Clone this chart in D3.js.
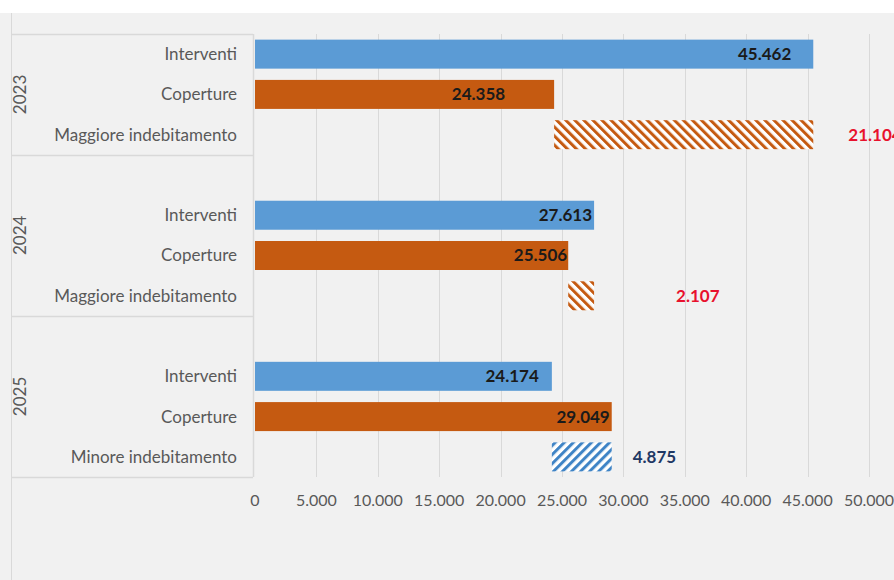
<!DOCTYPE html>
<html>
<head>
<meta charset="utf-8">
<script src="https://cdn.jsdelivr.net/npm/d3@7"></script>
<style>
  html, body { margin: 0; padding: 0; background: #ffffff; }
  svg { display: block; }
</style>
</head>
<body>
<div id="chart"></div>
<script>
// ---------- DATA ----------
const years = ["2023", "2024", "2025"];
const rowLabels = [
  ["Interventi", "Coperture", "Maggiore indebitamento"],
  ["Interventi", "Coperture", "Maggiore indebitamento"],
  ["Interventi", "Coperture", "Minore indebitamento"]
];
const interventi = [45462, 27613, 24174];
const coperture = [24358, 25506, 29049];
const differenza = [21104, 2107, 4875];
const tickValues = [0, 5000, 10000, 15000, 20000, 25000, 30000, 35000, 40000, 45000, 50000];

// ---------- LAYOUT / STYLE ----------
const W = 894, H = 580;
const plotLeft = 255, plotRight = 869, plotTop = 34, plotBottom = 477;
const catLeft = 11;
const blue = "#5b9bd5", orange = "#c55a11", grid = "#d9d9d9", textGray = "#595959";
const font = "Lato, 'Open Sans', sans-serif";
// label nudges (px) relative to bar ends, mimicking manually placed labels
const intLabelShift = [-22, -2, -13];
const copLabelShift = [-49, -1, -2];
const diffLabelShift = [35, 82, 21];
const diffLabelColor = ["#e8112d", "#e8112d", "#1f3864"];

const fmt = v => d3.format(",")(v).replace(/,/g, ".");

// build slots: each year group, blank slot between groups
const slots = [];
years.forEach((y, gi) => {
  if (gi > 0) slots.push({ id: y + "-blank", blank: true, gi });
  rowLabels[gi].forEach((lab, ri) => slots.push({ id: y + "-" + ri, label: lab, gi, ri }));
});

const svg = d3.select("#chart").append("svg").attr("width", W).attr("height", H);

svg.append("rect").attr("x", 0).attr("y", 13).attr("width", W).attr("height", H - 13).attr("fill", "#f1f1f1");
svg.append("line").attr("x1", catLeft + 0.5).attr("x2", catLeft + 0.5).attr("y1", 13).attr("y2", H).attr("stroke", grid);

const x = d3.scaleLinear().domain([0, 50000]).range([plotLeft, plotRight]);
const y = d3.scaleBand().domain(slots.map(s => s.id)).range([plotTop, plotBottom]).paddingInner(0.28).paddingOuter(0.14);

// patterns
const defs = svg.append("defs");
function hatch(id, color, angle) {
  const p = defs.append("pattern").attr("id", id).attr("patternUnits", "userSpaceOnUse")
    .attr("width", 6.4).attr("height", 6.4).attr("patternTransform", `rotate(${angle})`);
  p.append("rect").attr("width", 6.4).attr("height", 6.4).attr("fill", "#ffffff");
  p.append("rect").attr("width", 3).attr("height", 6.4).attr("fill", color);
}
hatch("hOrange", orange, -45);
hatch("hBlue", "#3f84c6", 45);

// gridlines
svg.append("g").selectAll("line").data(tickValues.slice(1)).join("line")
  .attr("x1", d => Math.round(x(d)) + 0.5).attr("x2", d => Math.round(x(d)) + 0.5)
  .attr("y1", plotTop).attr("y2", plotBottom).attr("stroke", grid);

// category axis box
const step = y.step();
const groupEdges = [0, 3, 7, 11].map(i => plotTop + i * step);
svg.append("g").selectAll("line").data(groupEdges).join("line")
  .attr("x1", catLeft).attr("x2", plotLeft - 2)
  .attr("y1", d => Math.round(d) + 0.5).attr("y2", d => Math.round(d) + 0.5)
  .attr("stroke", grid).attr("stroke-width", 1.5);
svg.append("line").attr("x1", plotLeft - 1.5).attr("x2", plotLeft - 1.5)
  .attr("y1", plotTop).attr("y2", plotBottom).attr("stroke", grid).attr("stroke-width", 1.5);

// row labels
svg.append("g").selectAll("text").data(slots.filter(s => !s.blank)).join("text")
  .attr("x", 237).attr("y", d => y(d.id) + y.bandwidth() / 2)
  .attr("dy", "0.35em").attr("text-anchor", "end")
  .attr("font-family", font).attr("font-size", 17)
  .attr("fill", textGray).text(d => d.label);

// year labels
svg.append("g").selectAll("text").data(years).join("text")
  .attr("transform", (d, i) => `translate(20,${(groupEdges[i] + groupEdges[i + 1]) / 2}) rotate(-90)`)
  .attr("dy", "0.35em").attr("text-anchor", "middle")
  .attr("font-family", font).attr("font-size", 17)
  .attr("fill", textGray).text(d => d);

// x axis tick labels
svg.append("g").selectAll("text").data(tickValues).join("text")
  .attr("x", d => x(d)).attr("y", 500).attr("dy", "0.35em").attr("text-anchor", "middle")
  .attr("font-family", font).attr("font-size", 16)
  .attr("fill", textGray).text(d => fmt(d));

// bars
const bars = svg.append("g");
years.forEach((yr, gi) => {
  const yi = y(yr + "-0"), yc = y(yr + "-1"), yd = y(yr + "-2");
  bars.append("rect").attr("x", x(0)).attr("y", yi).attr("width", x(interventi[gi]) - x(0)).attr("height", y.bandwidth()).attr("fill", blue);
  bars.append("rect").attr("x", x(0)).attr("y", yc).attr("width", x(coperture[gi]) - x(0)).attr("height", y.bandwidth()).attr("fill", orange);
  const lo = Math.min(interventi[gi], coperture[gi]), hi = Math.max(interventi[gi], coperture[gi]);
  const more = interventi[gi] > coperture[gi];
  bars.append("rect").attr("x", x(lo)).attr("y", yd).attr("width", x(hi) - x(lo)).attr("height", y.bandwidth())
    .attr("fill", more ? "url(#hOrange)" : "url(#hBlue)");

  const lbl = (xx, yy, t, anchor, color) => bars.append("text")
    .attr("x", xx).attr("y", yy + y.bandwidth() / 2).attr("dy", "0.35em").attr("text-anchor", anchor)
    .attr("font-family", font).attr("font-size", 17).attr("font-weight", "bold")
    .attr("fill", color).text(t);
  lbl(x(interventi[gi]) + intLabelShift[gi], yi, fmt(interventi[gi]), "end", "#1a1a1a");
  lbl(x(coperture[gi]) + copLabelShift[gi], yc, fmt(coperture[gi]), "end", "#1a1a1a");
  lbl(x(hi) + diffLabelShift[gi], yd, fmt(differenza[gi]), "start", diffLabelColor[gi]);
});
</script>
</body>
</html>
